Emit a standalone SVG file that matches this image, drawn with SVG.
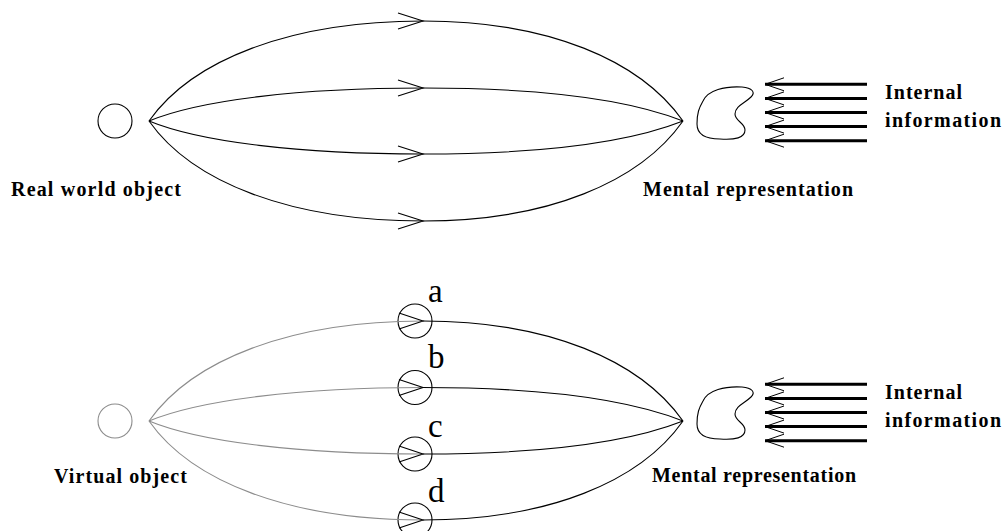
<svg xmlns="http://www.w3.org/2000/svg" width="1004" height="531" viewBox="0 0 1004 531">
<style>
.bg{fill:#fff}
.c{fill:none;stroke:#000;stroke-width:1.1}
.g{fill:none;stroke:#8c8c8c;stroke-width:1.1}
.thick{fill:none;stroke:#000;stroke-width:3}
.lbl{font-family:"Liberation Serif","DejaVu Serif",serif;font-weight:bold;font-size:20px;fill:#000}
.let{font-family:"Liberation Serif","DejaVu Serif",serif;font-size:33px;fill:#000}
</style>
<defs>
<marker id="chev" markerUnits="userSpaceOnUse" viewBox="-27 -10 30 20" refX="0" refY="0" markerWidth="30" markerHeight="20" orient="auto" overflow="visible">
<path d="M-25,-8 L0,0 L-25,8" fill="none" stroke="#000" stroke-width="1.1"/>
</marker>
<marker id="chevs" markerUnits="userSpaceOnUse" viewBox="-22 -8 24 16" refX="0" refY="0" markerWidth="24" markerHeight="16" orient="auto" overflow="visible">
<path d="M-19,-6.5 L0,0 L-19,6.5" fill="none" stroke="#000" stroke-width="1"/>
</marker>
</defs>
<rect class="bg" x="0" y="0" width="1004" height="531"/>

<g id="real-world-object">
<circle class="c" cx="115" cy="121" r="17"/>
<text class="lbl" x="11" y="196" textLength="170" lengthAdjust="spacing">Real world object</text>
</g>

<g id="mental-representation-top">
<path class="c" d="M703,101 C708,90 725,86 742,87 C752,88 756,92 751,97 C745,103 735,106 735,114 C735,121 745,123 745,130 C745,138 735,140 720,139 C705,139 697,134 697,124 C697,113 699,108 703,101 Z"/>
<text class="lbl" x="643" y="196" textLength="210" lengthAdjust="spacing">Mental representation</text>
</g>

<g id="internal-information-top">
<text class="lbl" x="885" y="99" textLength="77" lengthAdjust="spacing">Internal</text>
<text class="lbl" x="885" y="127" textLength="116" lengthAdjust="spacing">information</text>
</g>

<g id="virtual-object">
<circle class="g" cx="115" cy="421" r="17"/>
<text class="lbl" x="54" y="483" textLength="133" lengthAdjust="spacing">Virtual object</text>
</g>

<g id="view-a">
<circle class="c" cx="415" cy="321" r="17"/>
<text class="let" x="428" y="302">a</text>
</g>
<g id="view-b">
<circle class="c" cx="415" cy="387.5" r="17"/>
<text class="let" x="428" y="368">b</text>
</g>
<g id="view-c">
<circle class="c" cx="415" cy="454" r="17"/>
<text class="let" x="428" y="437">c</text>
</g>
<g id="view-d">
<circle class="c" cx="415" cy="520" r="17"/>
<text class="let" x="428" y="502">d</text>
</g>

<g id="mental-representation-bottom">
<path class="c" transform="translate(0,300)" d="M703,101 C708,90 725,86 742,87 C752,88 756,92 751,97 C745,103 735,106 735,114 C735,121 745,123 745,130 C745,138 735,140 720,139 C705,139 697,134 697,124 C697,113 699,108 703,101 Z"/>
<text class="lbl" x="652" y="482" textLength="204" lengthAdjust="spacing">Mental representation</text>
</g>

<g id="internal-information-bottom">
<text class="lbl" x="885" y="399" textLength="77" lengthAdjust="spacing">Internal</text>
<text class="lbl" x="885" y="427" textLength="116" lengthAdjust="spacing">information</text>
</g>

<g id="connectors">
<path class="c" marker-end="url(#chev)" d="M149,121 C192,60 290,21 423,21"/>
<path class="c" marker-end="url(#chev)" d="M149,121 C200,100 300,88 423,88"/>
<path class="c" marker-end="url(#chev)" d="M149,121 C200,142 300,154 423,154"/>
<path class="c" marker-end="url(#chev)" d="M149,121 C192,182 290,221 423,221"/>
<path class="c" d="M423,21 C548,21 640,60 683,121"/>
<path class="c" d="M423,88 C550,88 630,100 683,121"/>
<path class="c" d="M423,154 C550,154 630,142 683,121"/>
<path class="c" d="M423,221 C548,221 640,182 683,121"/>

<path class="g" d="M149,421 C192,360 290,321 423,321"/>
<path class="g" d="M149,421 C200,400 300,387.5 423,387.5"/>
<path class="g" d="M149,421 C200,442 300,454 423,454"/>
<path class="g" d="M149,421 C192,482 290,520 423,520"/>
<path class="c" d="M399,313 L423,321 L399,329"/>
<path class="c" d="M399,379.5 L423,387.5 L399,395.5"/>
<path class="c" d="M399,446 L423,454 L399,462"/>
<path class="c" d="M399,512 L423,520 L399,528"/>
<path class="c" d="M423,321 C548,321 640,360 683,421"/>
<path class="c" d="M423,387.5 C550,387.5 630,400 683,421"/>
<path class="c" d="M423,454 C550,454 630,442 683,421"/>
<path class="c" d="M423,520 C548,520 640,482 683,421"/>

<line class="thick" marker-end="url(#chevs)" x1="867" y1="84.3" x2="765" y2="84.3"/>
<line class="thick" marker-end="url(#chevs)" x1="867" y1="98.4" x2="765" y2="98.4"/>
<line class="thick" marker-end="url(#chevs)" x1="867" y1="112.5" x2="765" y2="112.5"/>
<line class="thick" marker-end="url(#chevs)" x1="867" y1="126.6" x2="765" y2="126.6"/>
<line class="thick" marker-end="url(#chevs)" x1="867" y1="140.7" x2="765" y2="140.7"/>
<line class="thick" marker-end="url(#chevs)" x1="867" y1="384.3" x2="765" y2="384.3"/>
<line class="thick" marker-end="url(#chevs)" x1="867" y1="398.4" x2="765" y2="398.4"/>
<line class="thick" marker-end="url(#chevs)" x1="867" y1="412.5" x2="765" y2="412.5"/>
<line class="thick" marker-end="url(#chevs)" x1="867" y1="426.6" x2="765" y2="426.6"/>
<line class="thick" marker-end="url(#chevs)" x1="867" y1="440.7" x2="765" y2="440.7"/>
</g>
</svg>
